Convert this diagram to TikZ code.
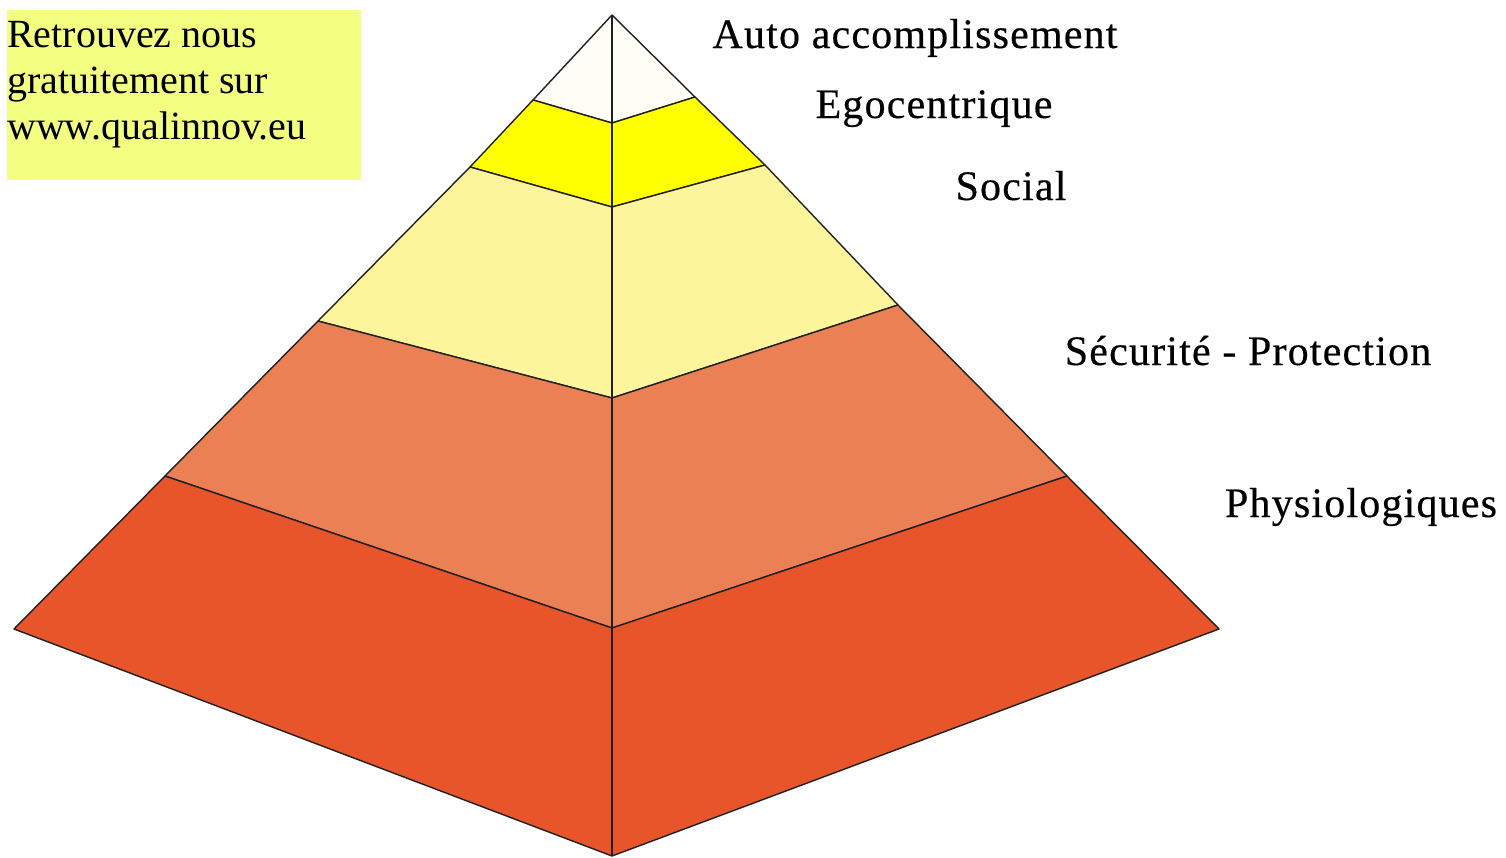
\documentclass[tikz,border=0pt]{standalone}
\usepackage{fontspec}
\setmainfont{Liberation Serif}
\newfontfamily\labfont[LetterSpace=2.8,FakeBold=0.4]{Liberation Serif}
\definecolor{boxy}{HTML}{F2FF80}
\definecolor{lvlA}{HTML}{FEFEF6}
\definecolor{lvlB}{HTML}{FFFF00}
\definecolor{lvlC}{HTML}{FDF59B}
\definecolor{lvlD}{HTML}{EB8055}
\definecolor{lvlE}{HTML}{E9552B}
\definecolor{edge}{HTML}{202020}
\tikzset{
 px/.style={x=1pt,y=-1pt},
 band/.style={draw=edge,line width=1.4pt,line join=round},
 lab/.style={font=\labfont\fontsize{42}{42}\selectfont,anchor=base,text=black,inner sep=0pt},
 boxt/.style={font=\fontsize{40}{46}\selectfont,align=left,anchor=north west,inner sep=0pt,text=black}
}
\begin{document}
\begin{tikzpicture}[px]
\useasboundingbox (0,0) rectangle (1506,857);
\fill[white] (0,0) rectangle (1506,857);
\coordinate (top) at (612,15);
\coordinate (a1) at (533,100);\coordinate (a2) at (612,123);\coordinate (a3) at (695,97);
\coordinate (b1) at (470,167);\coordinate (b2) at (612,207);\coordinate (b3) at (765,165);
\coordinate (c1) at (318,321);\coordinate (c2) at (612,398);\coordinate (c3) at (898,305);
\coordinate (d1) at (165,476);\coordinate (d2) at (612,628);\coordinate (d3) at (1067,476);
\coordinate (e1) at (14,629);\coordinate (e2) at (612,856);\coordinate (e3) at (1219,629);
\draw[band,fill=lvlA] (top)--(a1)--(a2)--(a3)--cycle;
\draw[band,fill=lvlB] (a1)--(a2)--(a3)--(b3)--(b2)--(b1)--cycle;
\draw[band,fill=lvlC] (b1)--(b2)--(b3)--(c3)--(c2)--(c1)--cycle;
\draw[band,fill=lvlD] (c1)--(c2)--(c3)--(d3)--(d2)--(d1)--cycle;
\draw[band,fill=lvlE] (d1)--(d2)--(d3)--(e3)--(e2)--(e1)--cycle;
\draw[edge,line width=1.4pt] (top)--(e2);
\fill[boxy] (7,10) rectangle (361,180);
\node[boxt] (note) at (7,21) {Retrouvez nous\\gratuitement sur\\www.qualinnov.eu};
\node[lab] (l1) at (915,48) {Auto accomplissement};
\node[lab] (l2) at (934,118) {Egocentrique};
\node[lab] (l3) at (1011,200) {Social};
\node[lab] (l4) at (1248,365) {Sécurité - Protection};
\node[lab] (l5) at (1361,517) {Physiologiques};
\end{tikzpicture}
\end{document}
